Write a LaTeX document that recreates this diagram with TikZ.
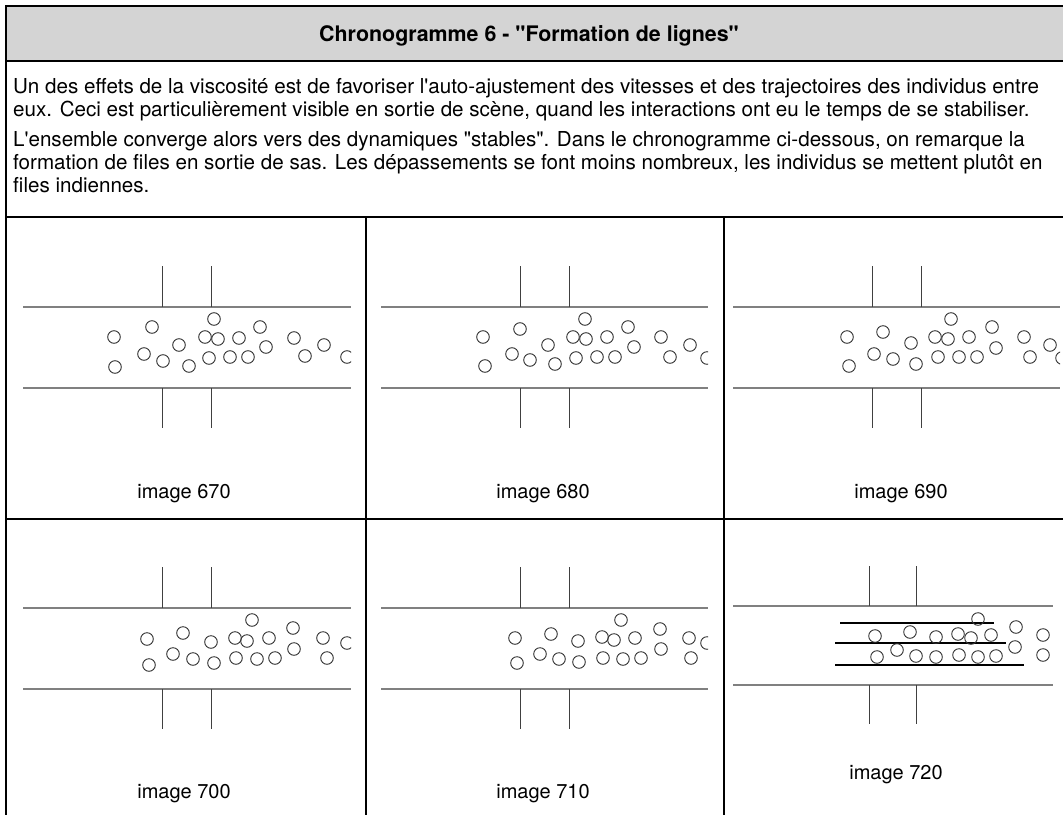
\documentclass[tikz,border=0pt]{standalone}
\usepackage{fontspec}
\setmainfont{TeX Gyre Heros}
\newcommand{\apos}{\textquotesingle}
\newcommand{\dq}{\textquotedbl}
\begin{document}
\begin{tikzpicture}[x=1pt,y=-1pt,
  frame/.style={line width=2pt, draw=black},
  chan/.style={draw=black!50, line width=1.4pt},
  sas/.style={draw=black!75, line width=1pt},
  lane/.style={draw=black, line width=1.1pt},
  ind/.style={draw=black!80, line width=0.9pt},
  body/.style={anchor=base west, inner sep=0pt, font=\fontsize{20.6}{24}\selectfont},
  lab/.style={anchor=base, inner sep=0pt, font=\fontsize{20}{24}\selectfont}]
\useasboundingbox (0,0) rectangle (1063,814);
% header
\fill[black!17] (6,6) rectangle (1066,61);
\draw[frame] (1066,6) -- (6,6) -- (6,816);
\draw[frame] (6,61) -- (1066,61);
\draw[frame] (6,217) -- (1066,217);
\draw[frame] (6,519) -- (1066,519);
\draw[frame] (366,217) -- (366,816);
\draw[frame] (724,217) -- (724,816);
\node[anchor=base, inner sep=0pt, font=\bfseries\fontsize{21.4}{24}\selectfont] (title) at (529,41) {Chronogramme 6 - \dq Formation de lignes\dq};
\node[body] (l1) at (13,93) {Un des effets de la viscosité est de favoriser l\apos auto-ajustement des vitesses et des trajectoires des individus entre};
\node[body] (l2) at (13,116) {eux. Ceci est particulièrement visible en sortie de scène, quand les interactions ont eu le temps de se stabiliser.};
\node[body] (l3) at (13,146) {L\apos ensemble converge alors vers des dynamiques \dq stables\dq. Dans le chronogramme ci-dessous, on remarque la};
\node[body] (l4) at (13,169) {formation de files en sortie de sas. Les dépassements se font moins nombreux, les individus se mettent plutôt en};
\node[body] (l5) at (13,192) {files indiennes.};
% panel geometry macro: #1 = channel left x, #2 = y offset, #3 = sas1, #4 = sas2, #5 = channel right
\newcommand{\sasgeo}[5]{%
  \draw[chan] (#1,307+#2) -- (#5,307+#2);
  \draw[chan] (#1,388+#2) -- (#5,388+#2);
  \draw[sas] (#3,266+#2) -- (#3,307+#2);
  \draw[sas] (#4,266+#2) -- (#4,307+#2);
  \draw[sas] (#3,388+#2) -- (#3,428+#2);
  \draw[sas] (#4,388+#2) -- (#4,428+#2);}
\sasgeo{23}{0}{162}{211}{351}
\sasgeo{381}{0}{520}{569}{708}
\sasgeo{733}{0}{872}{921}{1060}
\sasgeo{23}{301}{162}{211}{351}
\sasgeo{381}{301}{520}{569}{708}
% panel 6 (slightly smaller)
\draw[chan] (733,606) -- (1053,606);
\draw[chan] (733,685) -- (1053,685);
\draw[sas] (869,566) -- (869,606);
\draw[sas] (916,566) -- (916,606);
\draw[sas] (869,685) -- (869,724);
\draw[sas] (916,685) -- (916,724);
\draw[lane] (840,623) -- (994,623);
\draw[lane] (835,643) -- (1006,643);
\draw[lane] (835,665) -- (1024,665);
% individuals
\begin{scope}
\clip (0,300) rectangle (351,400);
\foreach \p in {(114,337),(115,367),(152,327),(144,354),(163,361),(179,345),(189,366),(214,319),(205,337),(218,339),(209,358),(239,338),(230,357),(248,357),(260,327),(266,347),(294,338),(305,356),(324,345),(347,357)}
  \draw[ind] \p circle (6.3);
\end{scope}
\begin{scope}
\clip (370,300) rectangle (708,400);
\foreach \p in {(483,337),(485,366),(520,329),(512,354),(530,360),(548,345),(555,364),(585,319),(573,337),(586,339),(576,358),(607,337),(597,357),(615,357),(628,327),(634,347),(661,337),(670,357),(690,345),(707,358)}
  \draw[ind] \p circle (6.3);
\end{scope}
\begin{scope}
\clip (730,300) rectangle (1060,400);
\foreach \p in {(847,337),(849,366),(883,332),(874,354),(893,359),(911,343),(916,364),(951,319),(935,337),(948,339),(938,357),(969,337),(959,357),(977,357),(992,327),(996,348),(1024,337),(1030,357),(1050,345),(1062,358)}
  \draw[ind] \p circle (6.3);
\end{scope}
\begin{scope}
\clip (0,600) rectangle (351,700);
\foreach \p in {(147,639),(149,665),(183,633),(173,654),(193,659),(211,642),(214,663),(252,620),(235,638),(247,641),(236,658),(269,638),(257,659),(275,658),(293,628),(294,649),(323,638),(327,658),(347,643)}
  \draw[ind] \p circle (6.3);
\end{scope}
\begin{scope}
\clip (370,600) rectangle (708,700);
\foreach \p in {(515,638),(517,663),(551,634),(540,654),(559,659),(578,641),(579,662),(621,620),(602,637),(614,640),(603,658),(635,638),(623,659),(641,658),(660,629),(661,649),(689,638),(691,658),(707,643)}
  \draw[ind] \p circle (6.3);
\end{scope}
\foreach \p in {(875,636),(877,657),(910,632),(897,650),(916,656),(936,637),(936,657),(978,619),(958,634),(971,638),(959,655),(991,635),(978,657),(996,656),(1016,627),(1015,647),(1043,635),(1043,655)}
  \draw[ind] \p circle (6.3);
% labels
\node[lab] (i670) at (184,498) {image 670};
\node[lab] (i680) at (543,498) {image 680};
\node[lab] (i690) at (901,498) {image 690};
\node[lab] (i700) at (184,798) {image 700};
\node[lab] (i710) at (543,798) {image 710};
\node[lab] (i720) at (896,779) {image 720};
\end{tikzpicture}
\end{document}
